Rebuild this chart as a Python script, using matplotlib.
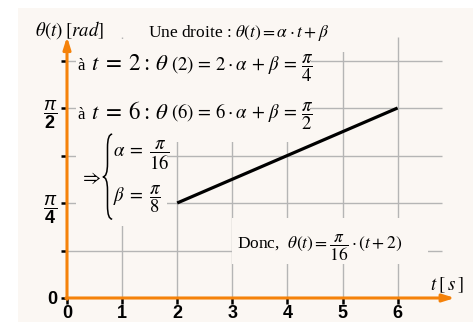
import numpy as np
import matplotlib.pyplot as plt
from matplotlib.patches import Rectangle, PathPatch
from matplotlib.path import Path
from matplotlib.offsetbox import TextArea, HPacker, AnnotationBbox

# tick labels of the theta axis use a sans bold fraction
plt.rcParams['mathtext.fontset'] = 'custom'
plt.rcParams['mathtext.rm'] = 'Liberation Sans'
plt.rcParams['mathtext.bf'] = 'Liberation Sans:bold'
plt.rcParams['mathtext.it'] = 'Liberation Sans:italic'

t_pts = [2, 6]
theta_pts = [np.pi / 4, np.pi / 2]
t_ticks = [0, 1, 2, 3, 4, 5, 6]
theta_ticks = [k * np.pi / 8 for k in range(6)]
theta_labels = ['0', '', r'$\dfrac{\pi}{\mathbf{4}}$', '', r'$\dfrac{\pi}{\mathbf{2}}$', '']

BG = '#fbf7f3'
ORANGE = '#f5820a'
GRID = '#b5b5b5'
SERIF = 'Liberation Serif'
U = np.pi / 8  # unité verticale

fig = plt.figure(figsize=(4.75, 3.22), dpi=100)
fig.add_artist(Rectangle((18 / 475, 0), 455 / 475, 314 / 322, transform=fig.transFigure,
                         facecolor=BG, edgecolor='none', zorder=-10))

px, py = 55.1, 47.5
ax = fig.add_axes([67 / 475, 24 / 322, 7.3 * px / 475, 6 * py / 322])
ax.set_xlim(0, 7.3)
ax.set_ylim(0, 6 * U)
ax.patch.set_visible(False)
for s in ax.spines.values():
    s.set_visible(False)

# grille
ax.hlines(theta_ticks[1:], 0, 6.8, color=GRID, lw=1, zorder=1)
ax.vlines(t_ticks[1:], 0, 5.5 * U, color=GRID, lw=1, zorder=1)


def masque(x0, x1, y0, y1):
    # fond sous les zones de texte (cache la grille)
    ax.add_patch(Rectangle((x0, y0), x1 - x0, y1 - y0, facecolor=BG, edgecolor='none',
                           zorder=1.5))


masque(1.32, 5.14, 5.18 * U, 6 * U)
masque(0.16, 4.43, 3.28 * U, 5.45 * U)
masque(0.16, 1.81, 1.52 * U, 3.58 * U)
masque(2.99, 6.55, 0.72 * U, 1.68 * U)

# axes fléchés
arrow = dict(arrowstyle='-|>,head_length=0.7,head_width=0.22', color=ORANGE, lw=2.2,
             shrinkA=0, shrinkB=0)
ax.annotate('', xy=(0, 5.5 * U), xytext=(0, -0.01), arrowprops=arrow,
            annotation_clip=False, zorder=4)
ax.annotate('', xy=(7.04, 0), xytext=(-0.02, 0), arrowprops=arrow,
            annotation_clip=False, zorder=4)

ax.set_xticks(t_ticks)
ax.set_xticklabels([str(v) for v in t_ticks], fontweight='bold', family='Liberation Sans')
ax.set_yticks(theta_ticks)
ax.set_yticklabels(theta_labels, fontweight='bold', family='Liberation Sans')
ax.tick_params(axis='x', length=4, width=1.8, color='k', pad=1, labelsize=13)
ax.tick_params(axis='y', length=4, width=1.8, color='k', pad=3, labelsize=13)

# droite theta(t)
ax.plot(t_pts, theta_pts, color='k', lw=2.3, solid_capstyle='butt', zorder=3)

ax.text(-0.58, 5.64 * U, r'$\theta(t)\;[rad]$', math_fontfamily='stix',
        fontsize=13.5, va='center', ha='left', clip_on=False)
ax.text(1.47, 5.58 * U, r'Une droite : $\theta(t) = \alpha \cdot t + \beta$',
        family=SERIF, math_fontfamily='stix', fontsize=12.5, va='center', ha='left', zorder=4)


def ligne(val, frac, y):
    parts = [
        TextArea('à ', textprops=dict(family=SERIF, size=12)),
        TextArea(r'$t \;=\; %d:\,\theta$' % val,
                 textprops=dict(math_fontfamily='stix', size=16.5)),
        TextArea(r'$(%d) \,=\, %d\cdot\alpha \,+\, \beta \,=\, \dfrac{\pi}{%d}$' % (val, val, frac),
                 textprops=dict(math_fontfamily='stix', size=13.5)),
    ]
    pack = HPacker(children=parts, align='baseline', pad=0, sep=1)
    ab = AnnotationBbox(pack, (0.2, y), xycoords='data', box_alignment=(0, 0.5),
                        frameon=False)
    ab.set_zorder(4)
    ax.add_artist(ab)


ligne(2, 4, 4.85 * U)
ligne(6, 2, 3.82 * U)

# système : accolade et valeurs de alpha, beta
ax.text(0.24, 2.55 * U, r'$\Rightarrow$', math_fontfamily='stix', fontsize=14,
        va='center', ha='left', zorder=4)
xs, w, r = 0.735, 0.085, 0.28 * U
yt, ym, yb = 3.45 * U, 2.55 * U, 1.66 * U
brace = Path([(xs + w, yt), (xs, yt), (xs, yt - r), (xs, ym + r), (xs, ym), (xs - w, ym),
              (xs, ym), (xs, ym - r), (xs, yb + r), (xs, yb), (xs + w, yb)],
             [Path.MOVETO, Path.CURVE3, Path.CURVE3, Path.LINETO, Path.CURVE3, Path.CURVE3,
              Path.CURVE3, Path.CURVE3, Path.LINETO, Path.CURVE3, Path.CURVE3])
ax.add_patch(PathPatch(brace, facecolor='none', edgecolor='k', lw=1.1, zorder=4))
ax.text(0.835, 3.0 * U, r'$\alpha \;=\; \dfrac{\pi}{16}$', math_fontfamily='stix',
        fontsize=13.5, va='center', ha='left', zorder=4)
ax.text(0.835, 2.08 * U, r'$\beta \;=\; \dfrac{\pi}{8}$', math_fontfamily='stix',
        fontsize=13.5, va='center', ha='left', zorder=4)

ax.text(3.09, 1.05 * U, r'Donc,  $\theta(t) = \dfrac{\pi}{16}\cdot(t + 2)$',
        family=SERIF, math_fontfamily='stix', fontsize=12.5, va='center', ha='left', zorder=4)

ax.text(6.59, 0.27 * U, r'$t\;[\,s\,]$', math_fontfamily='stix', fontsize=13.5,
        va='center', ha='left')

fig.savefig('out.png', dpi=100)
